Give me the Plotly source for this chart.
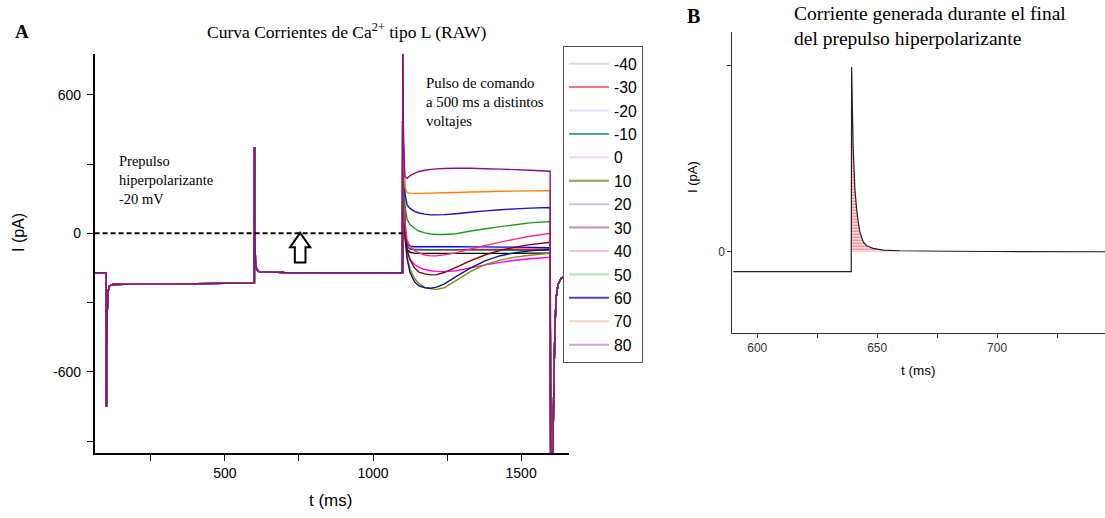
import plotly.graph_objects as go

W, H = 1105, 518

# ---------------- Panel A data ----------------
VOLTAGES = [-40, -30, -20, -10, 0, 10, 20, 30, 40, 50, 60, 70, 80]
LINE_COLORS = ["#000000", "#ff0000", "#0000ff", "#008080", "#ff00ff", "#8a8a10",
               "#12128c", "#800000", "#ff2a80", "#1f991f", "#1414bc", "#ff8000", "#86108e"]
LEGEND_COLORS = ["#dcdcdc", "#ff7070", "#e6e2fa", "#4fa8a0", "#f8d0f6", "#9c9a5c",
                 "#c8c6f0", "#c89494", "#f9c4dc", "#b8e2b8", "#4a4ac2", "#fcd2bc", "#cfa6d6"]

# shared holding / prepulse segment (all traces)
T_PRE = [60, 99.5, 100, 101, 103, 106, 110, 120, 200, 400, 599.5, 600, 601, 603, 607, 615, 700, 900, 1099.5, 1100.5]
I_PRE = [-171, -171, -751, -560, -330, -250, -228, -222, -220, -218, -216, 373, 50, -120, -155, -166, -170, -171, -171, 900]

# command pulse segment (per voltage)
T_CMD = [1103, 1108, 1115, 1125, 1140, 1155, 1175, 1195, 1215, 1240, 1280, 1330, 1380, 1430, 1480, 1530, 1598]
I_M40 = [220, -10, -70, -82, -86, -87, -87, -87, -87, -87, -87, -87, -87, -87, -87, -86, -86]
I_M30 = [240, 0, -60, -68, -70, -70, -71, -71, -71, -71, -71, -70, -70, -70, -69, -69, -68]
I_M20 = [260, 20, -50, -56, -58, -58, -58, -58, -58, -58, -58, -59, -59, -60, -60, -61, -62]
I_M10 = [250, 0, -55, -68, -71, -72, -72, -72, -72, -72, -72, -73, -73, -73, -74, -74, -74]
I_0 = [220, 0, -80, -112, -135, -148, -157, -162, -165, -166, -162, -150, -137, -126, -117, -110, -104]
I_10 = [200, -20, -100, -155, -195, -218, -234, -241, -243, -236, -205, -165, -135, -116, -103, -95, -87]
I_20 = [200, -10, -110, -170, -210, -228, -236, -238, -233, -220, -188, -150, -118, -97, -84, -76, -69]
I_30 = [230, 20, -70, -115, -150, -168, -176, -180, -179, -170, -148, -118, -93, -74, -60, -49, -39]
I_40 = [250, 50, -29, -55, -75, -85, -94, -98, -97, -93, -85, -68, -52, -38, -25, -13, 0]
I_50 = [300, 120, 60, 38, 22, 10, 2, -3, -5, -5, -2, 10, 20, 29, 37, 45, 51]
I_60 = [330, 170, 123, 108, 95, 88, 83, 80, 80, 81, 85, 91, 97, 102, 106, 109, 112]
I_70 = [350, 200, 176, 174, 173, 173, 174, 174, 175, 176, 177, 179, 180, 182, 183, 184, 185]
I_80 = [380, 245, 238, 250, 260, 268, 273, 277, 279, 281, 282, 282, 280, 278, 276, 273, 269]
I_CMD_ALL = [I_M40, I_M30, I_M20, I_M10, I_0, I_10, I_20, I_30, I_40, I_50, I_60, I_70, I_80]

# tail current after the pulse (shared)
T_POST = [1600, 1606, 1610, 1614, 1618, 1625, 1635, 1648, 1660]
I_POST = [-1100, -1100, -700, -420, -280, -220, -195, -185, -182]

ZERO_LINE_X = [60, 1100]
ARROW_PATH = "M 754,2 L 788,-60 L 772,-60 L 772,-127 L 736,-127 L 736,-60 L 720,-60 Z"

# ---------------- Panel B data ----------------
TB = [590, 639.2, 639.35, 640.0, 640.7, 641.4, 642.1, 642.8, 644.2, 645.6, 648.3, 652.5, 659.5, 680, 700, 745]
IB = [-32, -32, 298, 167, 102, 70, 48, 32, 16, 9.7, 5.5, 2.7, 1.6, 0.8, 0.4, 0]
HATCH_START, HATCH_END = 2, 12

SANS = "Liberation Sans, Arial, sans-serif"
SERIF = "Liberation Serif, Times New Roman, serif"

fig = go.Figure()

for v, col, icmd in zip(VOLTAGES, LINE_COLORS, I_CMD_ALL):
    fig.add_trace(go.Scatter(
        x=T_PRE + T_CMD + T_POST, y=I_PRE + icmd + I_POST,
        mode="lines", line=dict(color=col, width=1.4, simplify=False),
        showlegend=False, hoverinfo="skip", xaxis="x", yaxis="y"))

for v, col in zip(VOLTAGES, LEGEND_COLORS):
    fig.add_trace(go.Scatter(
        x=[None], y=[None], mode="lines", name=str(v),
        line=dict(color=col, width=2), showlegend=True, xaxis="x", yaxis="y"))

# Panel B
hx = TB[HATCH_START:HATCH_END + 1]
hy = IB[HATCH_START:HATCH_END + 1]
fig.add_trace(go.Scatter(x=[hx[0], hx[-1]], y=[0, 0], mode="lines",
                         line=dict(width=0, color="rgba(0,0,0,0)"),
                         showlegend=False, hoverinfo="skip", xaxis="x2", yaxis="y2"))
fig.add_trace(go.Scatter(x=hx, y=hy, mode="lines", fill="tonexty",
                         fillcolor="rgba(0,0,0,0)",
                         fillpattern=dict(shape="-", fgcolor="rgb(235,0,20)",
                                          bgcolor="rgba(255,220,225,0.5)", size=3, solidity=0.45),
                         line=dict(width=0, color="rgba(0,0,0,0)"),
                         showlegend=False, hoverinfo="skip", xaxis="x2", yaxis="y2"))
fig.add_trace(go.Scatter(x=TB, y=IB, mode="lines",
                         line=dict(color="#222222", width=1.2, simplify=False),
                         showlegend=False, hoverinfo="skip", xaxis="x2", yaxis="y2"))

axA = dict(showline=True, linecolor="black", linewidth=1.5, ticks="outside", ticklen=6,
           tickwidth=1.3, tickcolor="black", showgrid=False, zeroline=False,
           tickfont=dict(family=SANS, size=14, color="black"))
axB = dict(showline=True, linecolor="#333333", linewidth=1, ticks="outside", ticklen=4,
           tickwidth=1, tickcolor="#333333", showgrid=False, zeroline=False,
           tickfont=dict(family=SANS, size=12, color="#333333"))

fig.update_layout(
    width=W, height=H, margin=dict(l=0, r=0, t=0, b=0, autoexpand=False),
    paper_bgcolor="white", plot_bgcolor="white",
    xaxis=dict(domain=[94.6 / W, 568.5 / W], range=[60, 1660], anchor="y",
               tickvals=[250, 500, 750, 1000, 1250, 1500],
               ticktext=["", "500", "", "1000", "", "1500"], **axA),
    yaxis=dict(domain=[1 - 453 / H, 1 - 54 / H], range=[-952, 777], anchor="x",
               tickvals=[-900, -600, -300, 0, 300, 600],
               ticktext=["", "-600", "", "0", "", "600"], ticklabelstandoff=3, **axA),
    xaxis2=dict(domain=[732.3 / W, 1.0], range=[589.6, 745], anchor="y2",
                tickvals=[600, 625, 650, 675, 700, 725],
                ticktext=["600", "", "650", "", "700", ""], **axB),
    yaxis2=dict(domain=[1 - 332.7 / H, 1 - 31.7 / H], range=[-130.6, 355], anchor="x2",
                tickvals=[0, 300], ticktext=["0", ""], **axB),
    legend=dict(x=563 / W, y=1 - 46 / H,
                xanchor="left", yanchor="top", bgcolor="white",
                bordercolor="#555555", borderwidth=1, itemwidth=40,
                font=dict(family=SANS, size=15.7, color="black"),
                traceorder="normal", itemclick=False),
    shapes=[
        dict(type="line", xref="x", yref="y", x0=ZERO_LINE_X[0], x1=ZERO_LINE_X[1], y0=0, y1=0,
             line=dict(color="black", width=2, dash="5px,3px")),
        dict(type="path", xref="x", yref="y", path=ARROW_PATH,
             line=dict(color="black", width=2), fillcolor="white"),
    ],
)

def ann(text, x, y, size, family=SERIF, xanchor="center", yanchor="middle", **kw):
    fig.add_annotation(text=text, x=x / W, y=1 - y / H, xref="paper", yref="paper",
                       showarrow=False, xanchor=xanchor, yanchor=yanchor,
                       font=dict(family=family, size=size, color="black"), **kw)

ann("<b>A</b>", 22, 32, 19)
ann("Curva Corrientes de Ca<sup>2+</sup> tipo L (RAW)", 346, 31, 17.5)
ann("Prepulso<br>hiperpolarizante<br>-20 mV", 117, 151, 14.5, xanchor="left", yanchor="top", align="left")
ann("Pulso de comando<br>a 500 ms a distintos<br>voltajes", 424, 73, 14.8, xanchor="left", yanchor="top", align="left")
ann("I (pA)", 18, 233, 16, family=SANS, textangle=-90)
ann("t (ms)", 330, 500, 17, family=SANS)

ann("<b>B</b>", 693, 16, 20)
ann("Corriente generada durante el final<br>del prepulso hiperpolarizante", 792, 1, 19.5,
    xanchor="left", yanchor="top", align="left")
ann("I (pA)", 692, 177, 13, family=SANS, textangle=-90)
ann("t (ms)", 918, 370, 13.5, family=SANS)

fig.write_html("out.html")
